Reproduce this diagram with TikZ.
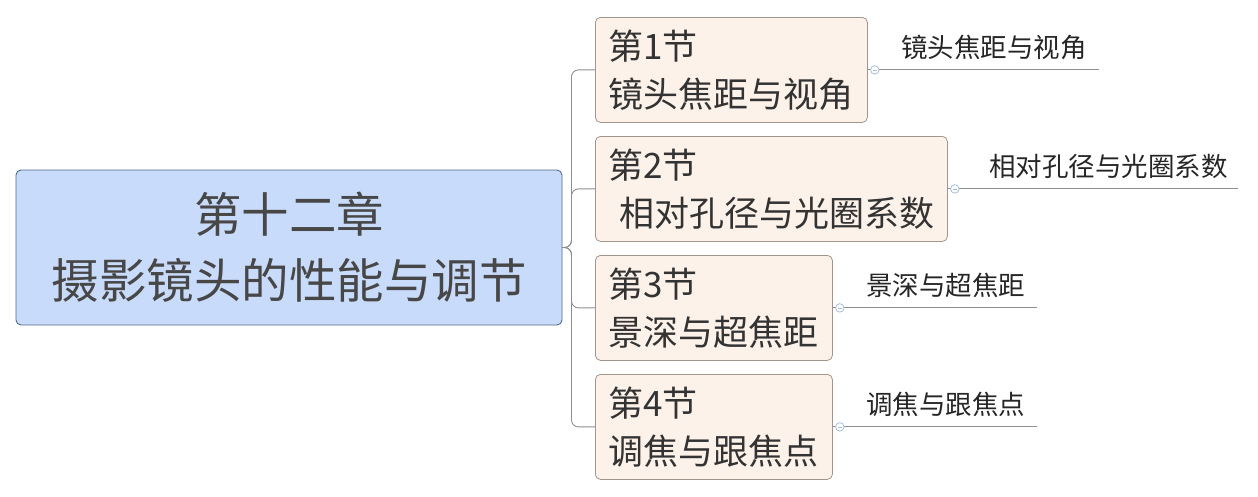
\documentclass[tikz,border=0pt]{standalone}
\usepackage{fontspec}
\newfontfamily\cjk{Noto Sans CJK SC}
\usetikzlibrary{positioning,calc}
\definecolor{maproot}{HTML}{C9DBFB}
\definecolor{maprootline}{HTML}{52698F}
\definecolor{mapsec}{HTML}{FDF2EA}
\definecolor{mapsecline}{HTML}{A4958C}
\definecolor{mapwire}{HTML}{8E8E8E}
\definecolor{mapdot}{HTML}{A9BDE3}
\definecolor{maptext}{HTML}{333333}
\definecolor{maproottext}{HTML}{474747}

\begin{document}
\begin{tikzpicture}[x=1pt,y=-1pt,font=\cjk,
  rootbox/.style={draw=maprootline,fill=maproot,rounded corners=5pt,minimum width=546pt,minimum height=155pt,
    line width=0.9pt,align=center,text=maproottext,font=\cjk\fontsize{47.5}{66}\selectfont},
  secbox/.style={draw=mapsecline,fill=mapsec,rounded corners=5pt,minimum height=105pt,inner xsep=13pt,
    line width=0.8pt,anchor=north west,align=left,text=maptext,font=\cjk\fontsize{35}{48}\selectfont},
  leaftext/.style={inner sep=0pt,text=black!85,font=\cjk\fontsize{26.5}{30}\selectfont},
  wire/.style={mapwire,line width=0.9pt,rounded corners=7pt},
  leafwire/.style={mapwire,line width=0.9pt},
  dot/.style={circle,draw=mapdot,fill=white,minimum size=8.5pt,inner sep=0pt,line width=0.8pt,
    path picture={\draw[mapdot,line width=0.7pt] ([xshift=2pt]path picture bounding box.west) -- ([xshift=-2pt]path picture bounding box.east);}}]
  \useasboundingbox (0,0) rectangle (1258,496);
  \node[rootbox] (root) at (289,247.5) {第十二章\\摄影镜头的性能与调节};
  \foreach \i/\w/\txt/\leaf/\gap/\tail in {%
    1/272/{第1节\\镜头焦距与视角}/{镜头焦距与视角}/33/12,
    2/352/{第2节\\\hspace{11pt}相对孔径与光圈系数}/{相对孔径与光圈系数}/41/10,
    3/237/{第3节\\景深与超焦距}/{景深与超焦距}/33/12,
    4/237/{第4节\\调焦与跟焦点}/{调焦与跟焦点}/33/12}{
      \node[secbox,minimum width=\w pt,text width=\w pt-26pt] (c\i) at (595,{17+119*(\i-1)}) {\txt};
      \draw[wire] (root.east) -- ++(9,0) |- (c\i.west);
      \node[leaftext,anchor=base west] (l\i) at ($(c\i.east)+(\gap,-12)$) {\leaf};
      \draw[leafwire] (c\i.east) -- ($(c\i.east -| l\i.east)+(\tail,0)$);
      \node[dot] (d\i) at ($(c\i.east)+(7,0)$) {};
  }
\end{tikzpicture}
\end{document}
